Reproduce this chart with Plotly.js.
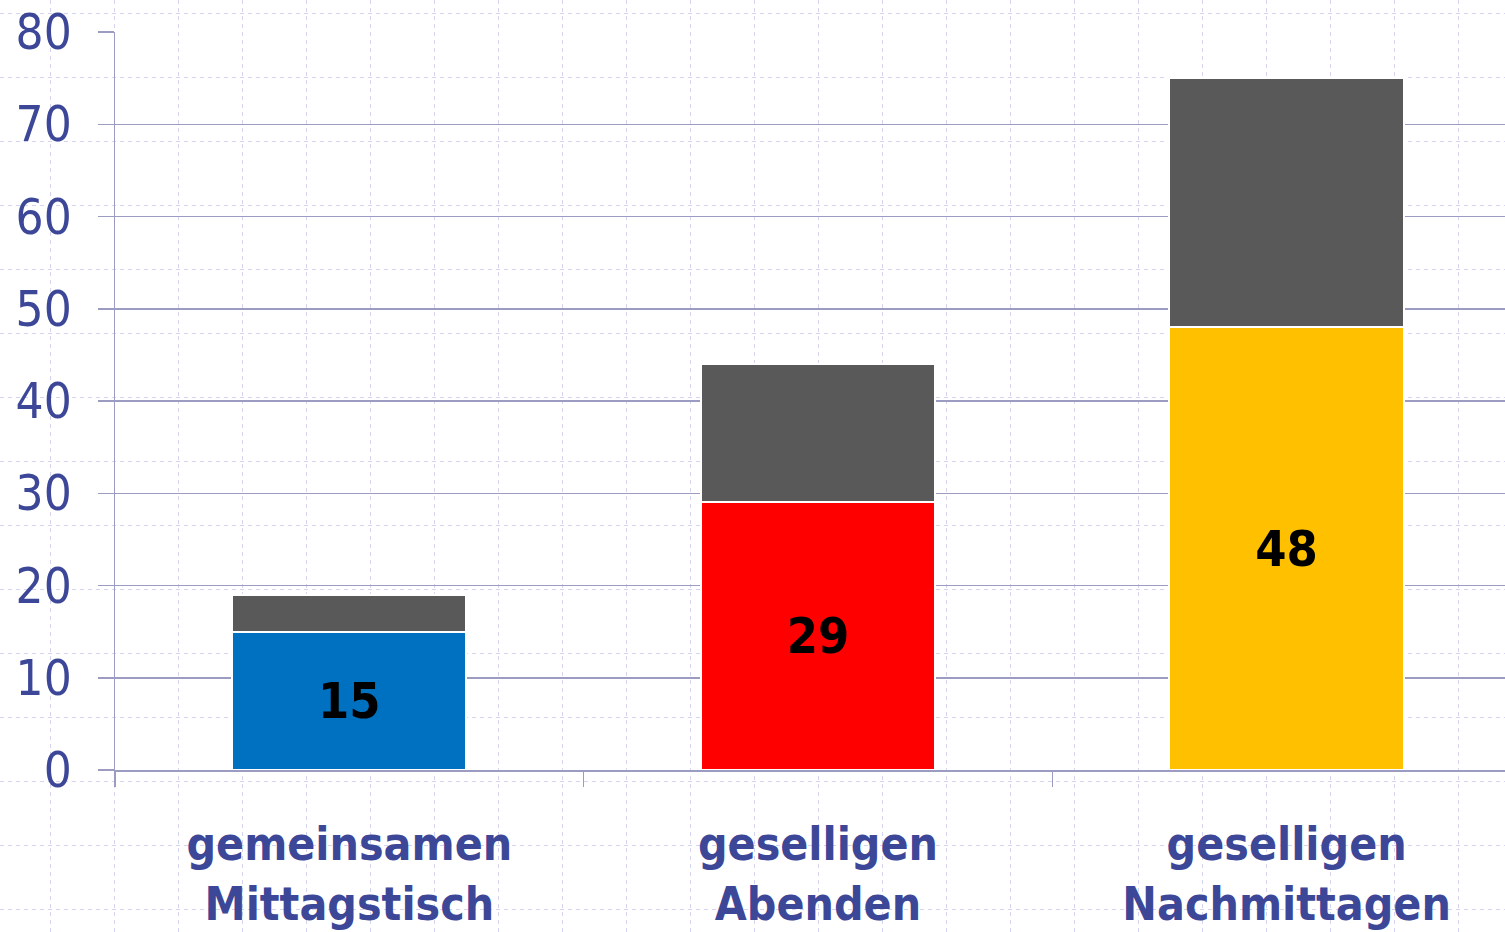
<!DOCTYPE html>
<html>
<head>
<meta charset="utf-8">
<script src="https://cdn.plot.ly/plotly-3.0.1.min.js"></script>
<style>html,body{margin:0;padding:0;background:#fff;}#chart{width:1505px;height:932px;}</style>
</head>
<body>
<div id="chart"></div>
<script>
const categories = ["gemeinsamen<br>Mittagstisch", "geselligen<br>Abenden", "geselligen<br>Nachmittagen"];
const mainValues = [15, 29, 48];
const restValues = [4, 15, 27];
const mainColors = ["#0070C0", "#FF0000", "#FFC000"];
const restColor = "#595959";
const yTicks = [0, 10, 20, 30, 40, 50, 60, 70, 80];

const axisColor = "#9c9cc2";
const labelColor = "#3d4798";

const traces = [
  { type: "scatter", x: [], y: [], xaxis: "x", yaxis: "y", hoverinfo: "skip", showlegend: false },
  {
    type: "bar", x: categories, y: mainValues, xaxis: "x2", yaxis: "y2",
    width: 0.5,
    marker: { color: mainColors, line: { color: "#ffffff", width: 2 } },
    text: mainValues.map(String), textposition: "inside", insidetextanchor: "middle",
    textangle: 0,
    textfont: { family: "DejaVu Sans Condensed, DejaVu Sans", size: 50, color: "#000000", weight: "bold" },
    showlegend: false, hoverinfo: "skip"
  },
  {
    type: "bar", x: categories, y: restValues, xaxis: "x2", yaxis: "y2",
    width: 0.5,
    marker: { color: restColor, line: { color: "#ffffff", width: 2 } },
    showlegend: false, hoverinfo: "skip"
  }
];

const layout = {
  width: 1505, height: 932,
  margin: { l: 0, r: 0, t: 0, b: 0, pad: 0 },
  paper_bgcolor: "#ffffff",
  plot_bgcolor: "rgba(0,0,0,0)",
  barmode: "stack",
  showlegend: false,
  xaxis: {
    domain: [0, 1], range: [0, 1505], tick0: 50, dtick: 64,
    showgrid: true, griddash: "4px,4px", gridcolor: "#d4d4f0", gridwidth: 1,
    showticklabels: false, zeroline: false, showline: false, ticks: "", fixedrange: true
  },
  yaxis: {
    domain: [0, 1], range: [932, 0], tick0: 13, dtick: 64,
    showgrid: true, griddash: "4px,4px", gridcolor: "#d4d4f0", gridwidth: 1,
    showticklabels: false, zeroline: false, showline: false, ticks: "", fixedrange: true
  },
  xaxis2: {
    anchor: "y2", domain: [115 / 1505, 1], range: [-0.5, 2.466],
    type: "category",
    showgrid: false, zeroline: false,
    showline: true, linecolor: axisColor, linewidth: 1.5,
    ticks: "outside", tickson: "boundaries", ticklen: 15, tickcolor: axisColor, tickwidth: 1.5,
    ticklabelstandoff: 33,
    tickfont: { family: "DejaVu Sans Condensed, DejaVu Sans", size: 46, color: labelColor, weight: "bold" },
    fixedrange: true
  },
  yaxis2: {
    anchor: "x2", domain: [(932 - 770) / 932, (932 - 32) / 932], range: [0, 80],
    tickvals: yTicks, ticktext: yTicks.map(String),
    showgrid: true, gridcolor: axisColor, gridwidth: 1.5, zeroline: false,
    showline: true, linecolor: axisColor, linewidth: 1.5,
    ticks: "outside", ticklen: 16, tickcolor: axisColor, tickwidth: 1.5,
    ticklabelstandoff: 16,
    tickfont: { family: "DejaVu Sans Condensed, DejaVu Sans", size: 49, color: labelColor },
    fixedrange: true
  }
};

Plotly.newPlot("chart", traces, layout, { displayModeBar: false, staticPlot: true });
</script>
</body>
</html>
